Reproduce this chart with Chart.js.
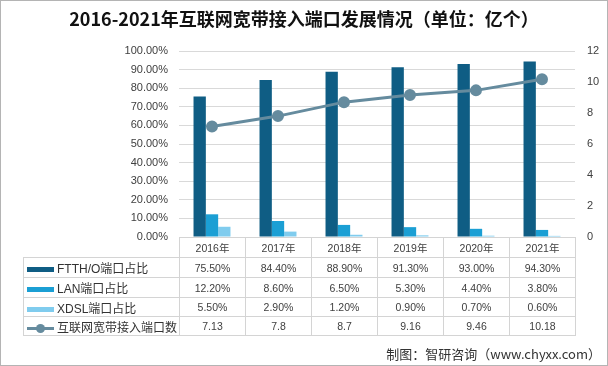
<!DOCTYPE html>
<html lang="zh">
<head>
    <meta charset="UTF-8">
    <title>2016-2021年互联网宽带接入端口发展情况</title>
    <style>
        body {
            margin: 0;
            padding: 0;
            background: #fff;
        }

        #frame {
            position: relative;
            width: 606px;
            height: 364px;
            border: 1px solid #b4b4b4;
            overflow: hidden;
            font-family: "Liberation Sans", "Noto Sans CJK SC", sans-serif;
            color: #404040;
        }

        #chartCanvas {
            position: absolute;
            left: -1px;
            top: -1px;
        }

        #title {
            position: absolute;
            left: 0;
            top: 5px;
            width: 606px;
            text-align: center;
            font-family: "Noto Sans CJK SC", sans-serif;
            font-weight: bold;
            font-size: 18px;
            color: #111;
            line-height: 24px;
        }

        #dataTable {
            position: absolute;
            border-collapse: collapse;
            table-layout: fixed;
            font-size: 10.5px;
        }

        #dataTable td {
            border: 1px solid #d4d4d4;
            padding: 0;
            text-align: center;
            white-space: nowrap;
            overflow: hidden;
        }

        #dataTable td.blank {
            border: none;
        }

        #dataTable td.name {
            text-align: left;
            font-size: 12px;
            color: #333;
        }

        .key {
            display: inline-block;
            vertical-align: middle;
            margin: 0 3px 0 3px;
            width: 27px;
        }

        .keyLine {
            position: relative;
            height: 9px;
        }

        .keyLine i {
            position: absolute;
            left: 0;
            top: 3px;
            width: 27px;
            height: 3px;
        }

        .keyLine b {
            position: absolute;
            left: 9px;
            top: 0;
            width: 9px;
            height: 9px;
            border-radius: 50%;
        }

        #source {
            position: absolute;
            right: 6px;
            top: 343px;
            font-family: "Noto Sans CJK SC", sans-serif;
            font-size: 13px;
            line-height: 20px;
            color: #333;
        }
    </style>
    <script src="https://cdn.jsdelivr.net/npm/chart.js"></script>
</head>
<body>
    <div id="frame">
        <canvas id="chartCanvas" width="608" height="366"></canvas>
        <div id="title">2016-2021年互联网宽带接入端口发展情况（单位：亿个）</div>
        <table id="dataTable"></table>
        <div id="source">制图：智研咨询（www.chyxx.com）</div>
    </div>

    <script>
        const years = ['2016年', '2017年', '2018年', '2019年', '2020年', '2021年'];
        const ftthShare = [75.5, 84.4, 88.9, 91.3, 93.0, 94.3];
        const lanShare = [12.2, 8.6, 6.5, 5.3, 4.4, 3.8];
        const xdslShare = [5.5, 2.9, 1.2, 0.9, 0.7, 0.6];
        const portCount = [7.13, 7.8, 8.7, 9.16, 9.46, 10.18];

        const seriesNames = ['FTTH/O端口占比', 'LAN端口占比', 'XDSL端口占比', '互联网宽带接入端口数'];
        const colors = ['#0f5d84', '#1b9fd4', '#80ccee', '#658b9e'];

        const tickFont = { family: '"Liberation Sans", sans-serif', size: 11 };

        const ctx = document.getElementById('chartCanvas').getContext('2d');
        const chart = new Chart(ctx, {
            data: {
                labels: years,
                datasets: [
                    {
                        type: 'line',
                        label: seriesNames[3],
                        data: portCount,
                        yAxisID: 'y1',
                        borderColor: colors[3],
                        backgroundColor: colors[3],
                        borderWidth: 3,
                        pointRadius: 4.5,
                        pointBackgroundColor: colors[3],
                        pointBorderColor: colors[3],
                        tension: 0,
                        order: 0
                    },
                    {
                        type: 'bar',
                        label: seriesNames[0],
                        data: ftthShare,
                        yAxisID: 'y',
                        backgroundColor: colors[0],
                        categoryPercentage: 0.56,
                        barPercentage: 1.0,
                        order: 1
                    },
                    {
                        type: 'bar',
                        label: seriesNames[1],
                        data: lanShare,
                        yAxisID: 'y',
                        backgroundColor: colors[1],
                        categoryPercentage: 0.56,
                        barPercentage: 1.0,
                        order: 1
                    },
                    {
                        type: 'bar',
                        label: seriesNames[2],
                        data: xdslShare,
                        yAxisID: 'y',
                        backgroundColor: colors[2],
                        categoryPercentage: 0.56,
                        barPercentage: 1.0,
                        order: 1
                    }
                ]
            },
            options: {
                responsive: false,
                animation: false,
                devicePixelRatio: 1,
                layout: {
                    padding: { top: 51, bottom: 129, left: 0, right: 0 }
                },
                plugins: {
                    legend: { display: false },
                    title: { display: false },
                    tooltip: { enabled: false }
                },
                scales: {
                    x: {
                        display: false
                    },
                    y: {
                        position: 'left',
                        min: 0,
                        max: 100,
                        ticks: {
                            stepSize: 10,
                            padding: 11,
                            color: '#404040',
                            font: tickFont,
                            callback: v => v.toFixed(2) + '%'
                        },
                        grid: {
                            color: '#d9d9d9',
                            drawTicks: false
                        },
                        border: { display: false },
                        afterFit(scale) { scale.width = 179; }
                    },
                    y1: {
                        position: 'right',
                        min: 0,
                        max: 12,
                        ticks: {
                            stepSize: 2,
                            padding: 12,
                            color: '#404040',
                            font: tickFont
                        },
                        grid: { display: false, drawTicks: false },
                        border: { display: false },
                        afterFit(scale) { scale.width = 33; }
                    }
                }
            }
        });

        // table under the plot, lined up with the category columns
        function buildTable() {
            const area = chart.chartArea;
            const table = document.getElementById('dataTable');
            const tableLeft = 23;
            const colW = (area.right - area.left) / years.length;
            table.style.left = (tableLeft - 1) + 'px';
            table.style.top = (area.bottom - 1) + 'px';
            table.style.width = (area.right - tableLeft) + 'px';

            let html = '<colgroup><col style="width:' + (area.left - tableLeft) + 'px">';
            years.forEach(() => { html += '<col style="width:' + colW + 'px">'; });
            html += '</colgroup>';

            html += '<tr style="height:20px"><td class="blank"></td>';
            years.forEach(y => { html += '<td>' + y + '</td>'; });
            html += '</tr>';

            const rows = [ftthShare, lanShare, xdslShare];
            rows.forEach((vals, k) => {
                html += '<tr style="height:' + (k < 2 ? 20 : 19) + 'px"><td class="name">' +
                    '<span class="key" style="height:5px;background:' + colors[k] + '"></span>' +
                    seriesNames[k] + '</td>';
                vals.forEach(v => { html += '<td>' + v.toFixed(2) + '%</td>'; });
                html += '</tr>';
            });

            html += '<tr style="height:19px"><td class="name">' +
                '<span class="key keyLine"><i style="background:' + colors[3] + '"></i>' +
                '<b style="background:' + colors[3] + '"></b></span>' +
                seriesNames[3] + '</td>';
            portCount.forEach(v => { html += '<td>' + v + '</td>'; });
            html += '</tr>';

            table.innerHTML = html;
        }

        buildTable();
    </script>
</body>
</html>
